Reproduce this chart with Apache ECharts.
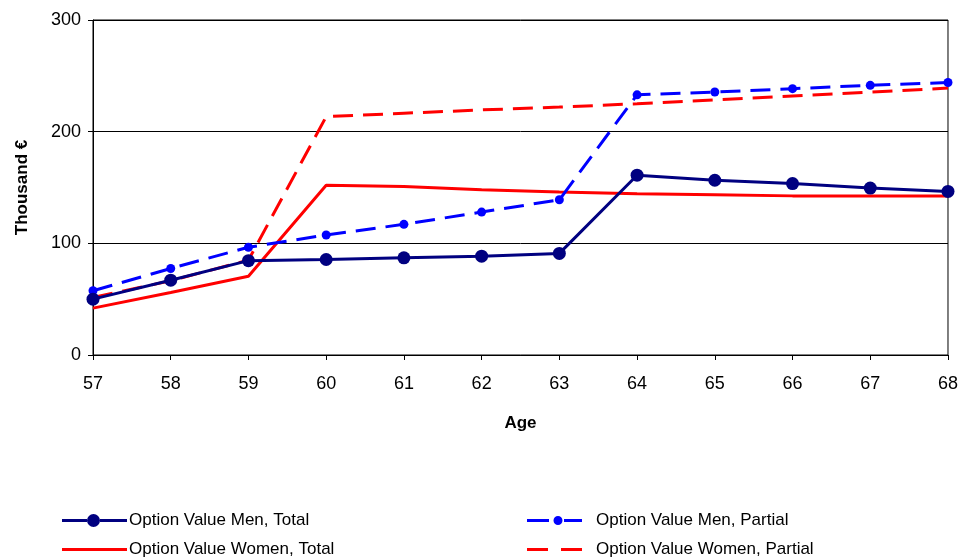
<!DOCTYPE html>
<html>
<head>
<meta charset="utf-8">
<script src="https://cdn.jsdelivr.net/npm/echarts@6/dist/echarts.min.js"></script>
<style>html,body{margin:0;padding:0;background:#fff;}#c{width:961px;height:560px;}</style>
</head>
<body>
<div id="c"></div>
<script>
var ages = ['57','58','59','60','61','62','63','64','65','66','67','68'];
var menTotal = [50, 67, 84.5, 85.5, 87, 88.5, 91, 161, 156.5, 153.5, 149.5, 146.5];
var menPartial = [57.5, 77.5, 96.5, 107.5, 117, 128, 139, 233, 235.5, 238.5, 241.5, 244];
var womenTotal = [42, 56, 70.5, 152, 151, 148, 146, 144.5, 143.5, 142.5, 142.5, 142.5];
var womenPartial = [51.5, 66.5, 85, 213.5, 216.5, 219.5, 222, 225, 228.5, 232, 235.5, 239];
var yTicks = [0, 100, 200, 300];

var FONT = '"Liberation Sans", Arial, sans-serif';
var menTotalIcon = 'path://M0,0 M65,14 M0,5.5 L25,5.5 L25,8.5 L0,8.5 Z M38,5.5 L65,5.5 L65,8.5 L38,8.5 Z M25,7 A6.5,6.5 0 1,1 38,7 A6.5,6.5 0 1,1 25,7 Z';
var womenTotalIcon = 'path://M0,0 M65,14 M0,5.5 L65,5.5 L65,8.5 L0,8.5 Z';
var menPartialIcon = 'path://M0,0 M55,14 M0,5.5 L22,5.5 L22,8.5 L0,8.5 Z M26.5,7 A4.5,4.5 0 1,1 35.5,7 A4.5,4.5 0 1,1 26.5,7 Z M37,5.5 L55,5.5 L55,8.5 L37,8.5 Z';
var womenPartialIcon = 'path://M0,0 M55,14 M0,5.5 L21,5.5 L21,8.5 L0,8.5 Z M34,5.5 L55,5.5 L55,8.5 L34,8.5 Z';

var chart = echarts.init(document.getElementById('c'), null, {renderer: 'canvas'});
chart.setOption({
  animation: false,
  backgroundColor: '#fff',
  grid: {left: 93, right: 13, top: 20, bottom: 205, show: true, borderColor: '#000', borderWidth: 1, backgroundColor: 'transparent'},
  xAxis: {
    type: 'category', data: ages, boundaryGap: false,
    name: 'Age', nameLocation: 'middle', nameGap: 60,
    nameTextStyle: {fontFamily: FONT, fontWeight: 'bold', fontSize: 17, color: '#000'},
    axisLine: {lineStyle: {color: '#000', width: 1}},
    axisTick: {show: true, length: 5, alignWithLabel: true, lineStyle: {color: '#000'}},
    axisLabel: {fontFamily: FONT, fontSize: 18, color: '#000', margin: 20},
    splitLine: {show: false}
  },
  yAxis: {
    type: 'value', min: yTicks[0], max: yTicks[yTicks.length - 1], interval: 100,
    name: 'Thousand €', nameLocation: 'middle', nameGap: 62, nameRotate: 90,
    nameTextStyle: {fontFamily: FONT, fontWeight: 'bold', fontSize: 17, color: '#000'},
    axisLine: {show: true, lineStyle: {color: '#000', width: 1}},
    axisTick: {show: true, length: 5, lineStyle: {color: '#000'}},
    axisLabel: {fontFamily: FONT, fontSize: 18, color: '#000', margin: 12},
    splitLine: {show: true, lineStyle: {color: '#000', width: 1}}
  },
  legend: [
    {
      data: [
        {name: 'Option Value Men, Total', icon: menTotalIcon},
        {name: 'Option Value Women, Total', icon: womenTotalIcon}
      ],
      orient: 'vertical', left: 62, top: 512, padding: 0,
      itemWidth: 65, itemHeight: 14, itemGap: 12,
      textStyle: {fontFamily: FONT, fontSize: 17, color: '#000', padding: [0, 0, 0, -3]}
    },
    {
      data: [
        {name: 'Option Value Men, Partial', icon: menPartialIcon},
        {name: 'Option Value Women, Partial', icon: womenPartialIcon}
      ],
      orient: 'vertical', left: 527, top: 512, padding: 0,
      itemWidth: 55, itemHeight: 14, itemGap: 12,
      textStyle: {fontFamily: FONT, fontSize: 17, color: '#000', padding: [0, 0, 0, 9]}
    }
  ],
  series: [
    {
      name: 'Option Value Men, Total', type: 'line', data: menTotal,
      symbol: 'circle', symbolSize: 13, color: '#000080',
      lineStyle: {color: '#000080', width: 3, type: 'solid'},
      itemStyle: {color: '#000080'}, z: 4
    },
    {
      name: 'Option Value Women, Total', type: 'line', data: womenTotal,
      symbol: 'none', showSymbol: false, color: '#ff0000',
      lineStyle: {color: '#ff0000', width: 3, type: 'solid'}, z: 2
    },
    {
      name: 'Option Value Men, Partial', type: 'line', data: menPartial,
      symbol: 'circle', symbolSize: 9, color: '#0000ff',
      lineStyle: {color: '#0000ff', width: 3, type: [20, 10]},
      itemStyle: {color: '#0000ff'}, z: 3
    },
    {
      name: 'Option Value Women, Partial', type: 'line', data: womenPartial,
      symbol: 'none', showSymbol: false, color: '#ff0000',
      lineStyle: {color: '#ff0000', width: 3, type: [20, 10]}, z: 2
    }
  ]
});
</script>
</body>
</html>
